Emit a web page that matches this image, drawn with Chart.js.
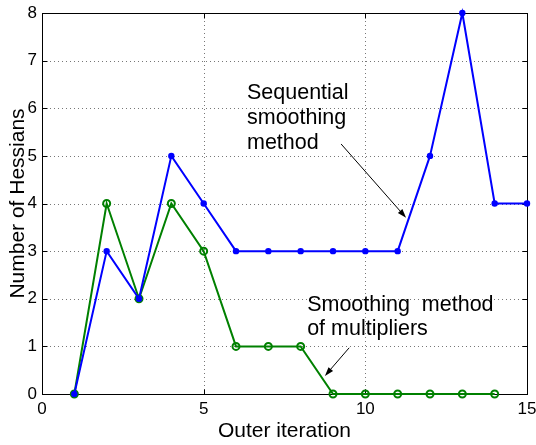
<!DOCTYPE html>
<html>
<head>
<meta charset="utf-8">
<script src="https://cdn.jsdelivr.net/npm/chart.js@4"></script>
<style>
  html, body { margin: 0; padding: 0; background: #fff; }
  #wrap { width: 536px; height: 445px; }
</style>
</head>
<body>
<div id="wrap"><canvas id="hessianChart" width="536" height="445"></canvas></div>
<script>
// data
const seqIterations = [1, 2, 3, 4, 5, 6, 7, 8, 9, 10, 11, 12, 13, 14, 15];
const seqHessians = [0, 3, 2, 5, 4, 3, 3, 3, 3, 3, 3, 5, 8, 4, 4];
const multIterations = [1, 2, 3, 4, 5, 6, 7, 8, 9, 10, 11, 12, 13, 14];
const multHessians = [0, 4, 2, 4, 3, 1, 1, 1, 0, 0, 0, 0, 0, 0];
const xTickValues = [0, 5, 10, 15];
const yTickValues = [0, 1, 2, 3, 4, 5, 6, 7, 8];

const FONT = '"Liberation Sans", Arial, Helvetica, sans-serif';

function toPoints(xs, ys) {
    return xs.map((x, i) => ({ x: x, y: ys[i] }));
}

function drawArrow(ctx, x1, y1, x2, y2) {
    const ang = Math.atan2(y2 - y1, x2 - x1);
    const len = 9, half = 3;
    ctx.beginPath();
    ctx.moveTo(x1, y1);
    ctx.lineTo(x2 - Math.cos(ang) * len * 0.8, y2 - Math.sin(ang) * len * 0.8);
    ctx.stroke();
    ctx.beginPath();
    ctx.moveTo(x2, y2);
    ctx.lineTo(x2 - Math.cos(ang) * len - Math.sin(ang) * half, y2 - Math.sin(ang) * len + Math.cos(ang) * half);
    ctx.lineTo(x2 - Math.cos(ang) * len + Math.sin(ang) * half, y2 - Math.sin(ang) * len - Math.cos(ang) * half);
    ctx.closePath();
    ctx.fill();
}

// dotted grid, axes box with inward tick marks (matlab style), annotations
const boxPlugin = {
    id: 'box',
    beforeDatasetsDraw(chart) {
        const { ctx, chartArea: a, scales } = chart;
        ctx.save();
        // dotted grid
        ctx.strokeStyle = '#777';
        ctx.lineWidth = 1;
        ctx.setLineDash([1, 3]);
        ctx.beginPath();
        xTickValues.forEach(v => {
            const px = Math.round(scales.x.getPixelForValue(v)) + 0.5;
            ctx.moveTo(px, a.top); ctx.lineTo(px, a.bottom);
        });
        yTickValues.forEach(v => {
            const py = Math.round(scales.y.getPixelForValue(v)) + 0.5;
            ctx.moveTo(a.left, py); ctx.lineTo(a.right, py);
        });
        ctx.stroke();
        ctx.setLineDash([]);

        // frame and ticks
        ctx.strokeStyle = '#000';
        const l = Math.round(a.left) + 0.5, r = Math.round(a.right) + 0.5;
        const t = Math.round(a.top) + 0.5, b = Math.round(a.bottom) + 0.5;
        ctx.strokeRect(l, t, r - l, b - t);
        ctx.beginPath();
        xTickValues.forEach(v => {
            const px = Math.round(scales.x.getPixelForValue(v)) + 0.5;
            ctx.moveTo(px, b); ctx.lineTo(px, b - 5);
            ctx.moveTo(px, t); ctx.lineTo(px, t + 5);
        });
        yTickValues.forEach(v => {
            const py = Math.round(scales.y.getPixelForValue(v)) + 0.5;
            ctx.moveTo(l, py); ctx.lineTo(l + 5, py);
            ctx.moveTo(r, py); ctx.lineTo(r - 5, py);
        });
        ctx.stroke();
        ctx.restore();
    },
    afterDatasetsDraw(chart) {
        const { ctx, scales } = chart;
        const X = v => scales.x.getPixelForValue(v);
        const Y = v => scales.y.getPixelForValue(v);
        ctx.save();
        ctx.fillStyle = '#000';
        ctx.strokeStyle = '#000';
        ctx.lineWidth = 1;
        ctx.font = '21.5px ' + FONT;
        ctx.textBaseline = 'alphabetic';
        ctx.textAlign = 'left';
        ctx.fillText('Sequential', X(6.34), Y(6.19));
        ctx.fillText('smoothing', X(6.34), Y(5.67));
        ctx.fillText('method', X(6.34), Y(5.14));
        ctx.fillText('Smoothing  method', X(8.2), Y(1.74));
        ctx.fillText('of multipliers', X(8.2), Y(1.24));
        drawArrow(ctx, X(9.25), Y(5.25), X(11.26), Y(3.7));
        drawArrow(ctx, X(9.5), Y(0.97), X(8.75), Y(0.38));
        ctx.restore();
    }
};

new Chart(document.getElementById('hessianChart'), {
    type: 'line',
    data: {
        datasets: [
            {
                label: 'Sequential smoothing method',
                data: toPoints(seqIterations, seqHessians),
                borderColor: '#0000ff',
                backgroundColor: '#0000ff',
                borderWidth: 2,
                pointRadius: 3.2,
                pointBorderWidth: 0,
                tension: 0,
                clip: false
            },
            {
                label: 'Smoothing method of multipliers',
                data: toPoints(multIterations, multHessians),
                borderColor: '#008000',
                backgroundColor: '#ffffff',
                borderWidth: 2,
                pointRadius: 3.5,
                pointBorderWidth: 2,
                pointBorderColor: '#008000',
                pointBackgroundColor: 'rgba(0,0,0,0)',
                tension: 0,
                clip: false
            }
        ]
    },
    options: {
        responsive: false,
        animation: false,
        layout: { padding: { top: 13, right: 9, left: 0, bottom: 0 } },
        plugins: { legend: { display: false }, tooltip: { enabled: false } },
        scales: {
            x: {
                type: 'linear',
                min: 0, max: 15,
                afterFit: s => { s.height = 51; s.paddingRight = 0; s.paddingLeft = 0; },
                afterBuildTicks: s => { s.ticks = xTickValues.map(v => ({ value: v })); },
                grid: { display: false, drawTicks: false },
                border: { display: false },
                ticks: { color: '#000', font: { family: FONT, size: 17 }, padding: 5, maxRotation: 0 },
                title: { display: true, text: 'Outer iteration', color: '#000', font: { family: FONT, size: 21 }, padding: { top: 0, bottom: 1 } }
            },
            y: {
                min: 0, max: 8,
                afterFit: s => { s.width = 42; s.paddingTop = 0; s.paddingBottom = 0; },
                afterBuildTicks: s => { s.ticks = yTickValues.map(v => ({ value: v })); },
                grid: { display: false, drawTicks: false },
                border: { display: false },
                ticks: { color: '#000', font: { family: FONT, size: 17 }, padding: 5 },
                title: { display: true, text: 'Number of Hessians', color: '#000', font: { family: FONT, size: 21 }, padding: { top: 6, bottom: 0 } }
            }
        }
    },
    plugins: [boxPlugin]
});
</script>
</body>
</html>
